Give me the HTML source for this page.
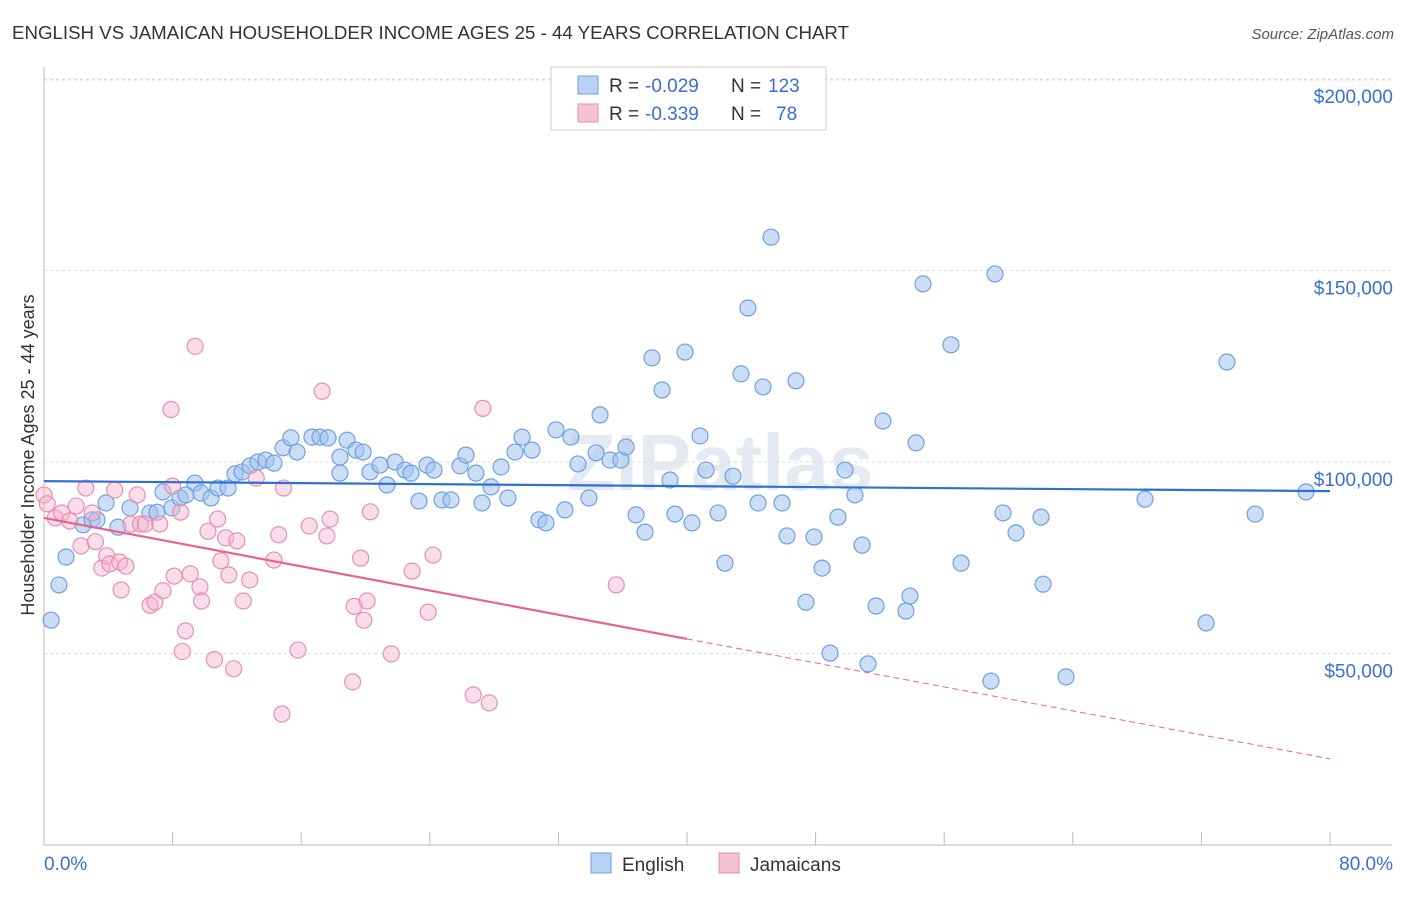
<!DOCTYPE html>
<html><head><meta charset="utf-8"><style>
body{margin:0;background:#fff;font-family:"Liberation Sans",sans-serif;}
svg text{font-family:"Liberation Sans",sans-serif;}
</style></head><body>
<svg id="chart" width="1406" height="892">
<text x="12" y="39" font-size="18.7" fill="#333">ENGLISH VS JAMAICAN HOUSEHOLDER INCOME AGES 25 - 44 YEARS CORRELATION CHART</text>
<text x="1394" y="39" font-size="15" fill="#555" text-anchor="end" font-style="italic">Source: ZipAtlas.com</text>
<text x="720" y="490" font-size="80" fill="#e4eaf2" text-anchor="middle" font-weight="bold">ZIPatlas</text>
<g id="grid"></g><g id="axes"></g><g id="pts"></g><g id="trend"></g>
<text transform="translate(34,455) rotate(-90)" font-size="18" fill="#333" text-anchor="middle">Householder Income Ages 25 - 44 years</text>
<g>
<rect x="551" y="67" width="275" height="63" fill="#fff" stroke="#ccc"/>
<rect x="578" y="76" width="20" height="18" fill="#b8d2f3" stroke="#6fa0e0"/>
<rect x="578" y="104" width="20" height="18" fill="#f7c3d4" stroke="#e68fae"/>
<text x="609" y="92" font-size="19" fill="#333">R =</text>
<text x="645" y="92" font-size="19" fill="#3a6fd0">-0.029</text>
<text x="731" y="92" font-size="19" fill="#333">N =</text>
<text x="768" y="92" font-size="19" fill="#3a6fd0">123</text>
<text x="609" y="120" font-size="19" fill="#333">R =</text>
<text x="645" y="120" font-size="19" fill="#3a6fd0">-0.339</text>
<text x="731" y="120" font-size="19" fill="#333">N =</text>
<text x="776" y="120" font-size="19" fill="#3a6fd0">78</text>
</g>
<g>
<rect x="591" y="853" width="20" height="20" fill="#b8d2f3" stroke="#6fa0e0"/>
<text x="622" y="871" font-size="19" fill="#333">English</text>
<rect x="719" y="853" width="20" height="20" fill="#f7c3d4" stroke="#e68fae"/>
<text x="750" y="871" font-size="19" fill="#333">Jamaicans</text>
</g>
</svg>
<script>
const NS='http://www.w3.org/2000/svg';
const yTicks=[50000,100000,150000,200000];
const yTickLabels=['$50,000','$100,000','$150,000','$200,000'];
const xTickLabels=['0.0%','80.0%'];
const englishX=[0.44,0.93,1.37,2.43,2.99,3.30,3.86,4.60,5.35,6.59,7.03,7.40,7.96,8.46,8.83,9.39,9.77,10.39,10.82,11.45,11.88,12.32,12.82,13.31,13.81,14.31,14.87,15.36,15.74,16.67,17.17,17.67,18.41,18.85,19.41,19.85,18.41,20.28,20.90,21.34,21.84,22.46,22.83,23.33,23.83,24.26,24.76,25.32,25.88,26.25,26.87,27.25,27.81,28.43,28.86,29.30,29.74,30.36,30.79,31.23,31.85,32.41,32.78,33.22,33.90,34.34,34.59,35.21,35.89,36.21,36.83,37.39,37.82,38.45,38.94,39.25,39.88,40.31,40.81,41.18,41.93,42.36,42.86,43.36,43.79,44.42,44.73,45.23,45.91,46.22,46.78,47.40,47.90,48.40,48.90,49.39,49.83,50.45,50.89,51.26,51.76,52.19,53.62,53.87,54.25,54.68,56.42,57.05,58.91,59.16,59.66,60.47,62.02,62.15,63.58,68.49,72.29,73.59,75.34,78.51];
const englishY=[58.7,67.9,75.2,83.6,84.9,84.9,89.3,83.0,88.0,86.7,86.9,92.2,88.0,90.6,91.4,94.5,91.9,90.6,93.2,93.2,96.9,97.4,99.0,100.0,100.5,99.7,103.7,106.3,102.6,106.5,106.5,106.3,101.3,105.7,103.1,102.6,97.1,97.4,99.2,94.0,100.0,97.9,97.1,89.8,99.2,97.9,90.1,90.1,99.0,101.8,97.1,89.3,93.5,98.7,90.6,102.6,106.5,103.1,84.9,84.1,108.4,87.5,106.5,99.5,90.6,102.4,112.3,100.5,100.5,103.9,86.2,81.7,127.2,118.8,95.3,86.4,128.7,84.1,106.8,97.9,86.7,73.6,96.3,123.0,140.2,89.3,119.6,158.7,89.3,80.7,121.2,63.4,80.4,72.3,50.1,85.6,97.9,91.4,78.3,47.3,62.4,110.7,61.1,65.0,105.0,146.5,130.6,73.6,42.8,149.1,86.7,81.5,85.6,68.1,43.9,90.3,58.0,126.1,86.4,92.2];
const jamX=[0.0,0.2,0.7,1.1,1.6,2.0,2.3,2.6,3.0,3.2,3.6,3.9,4.1,4.4,4.7,4.8,5.1,5.4,5.8,6.0,6.3,6.6,6.9,7.2,7.4,7.9,8.0,8.1,8.5,8.6,8.8,9.1,9.4,9.7,9.8,10.2,10.6,10.8,11.0,11.3,11.5,11.8,12.0,12.4,12.8,13.2,14.3,14.6,14.8,14.9,15.8,16.5,17.3,17.6,17.8,19.2,19.3,19.7,19.9,20.1,20.3,21.6,22.9,23.9,24.2,26.7,27.3,27.7,35.6];
const jamY=[91.4,89.1,85.4,86.7,84.6,88.5,78.1,93.2,86.7,79.2,72.3,75.5,73.4,92.7,73.9,66.6,72.8,83.8,91.4,83.8,83.8,62.6,63.4,83.8,66.4,113.7,93.7,70.2,86.9,50.5,55.9,70.8,130.2,67.4,63.7,81.9,48.4,85.1,74.2,80.2,70.5,46.0,79.4,63.7,69.2,95.8,74.4,81.0,34.2,93.2,50.9,83.3,118.5,80.7,85.1,42.6,62.3,74.9,58.7,63.7,87.0,49.9,71.5,60.8,75.7,39.2,114.0,37.1,67.9];
function X(p){return 44+p/80*1286;}
function Y(v){return 845-v/50000*191.5;}
function mk(t,a,par){const e=document.createElementNS(NS,t);for(const k in a)e.setAttribute(k,a[k]);document.getElementById(par).appendChild(e);return e;}
const lineRet=mk('line',{x1:44,y1:80,x2:1392,y2:80,stroke:'#ddd','stroke-dasharray':'3,3'},'grid');


yTicks.forEach((v,i)=>{
 const g=mk('line',{x1:44,y1:Y(v),x2:1392,y2:Y(v),stroke:'#ddd','stroke-dasharray':'3,3'},'grid');
 
 
 const t=mk('text',{x:1393,y:Y(v)+24,'font-size':19,fill:'#3a6fd0','text-anchor':'end'},'axes');
 t.textContent=yTickLabels[i];
 
 
});
const ya=mk('line',{x1:44,y1:67,x2:44,y2:845,stroke:'#bbb'},'axes');


const xa=mk('line',{x1:44,y1:845,x2:1392,y2:845,stroke:'#bbb'},'axes');


for(let i=0;i<=10;i++){const tk=mk('line',{x1:X(i*8),y1:832,x2:X(i*8),y2:845,stroke:'#bbb'},'axes');
 
 }
[[0,44,'start'],[80,1393,'end']].forEach((d,i)=>{const t=mk('text',{x:d[1],y:870,'font-size':19,fill:'#3a6fd0','text-anchor':d[2]},'axes');t.textContent=xTickLabels[i];
 
 });
englishX.forEach((x,i)=>{const c=mk('circle',{cx:X(x),cy:Y(englishY[i]*1000),r:8,fill:'rgba(160,195,238,0.55)',stroke:'#6fa0e0','stroke-width':1.2},'pts');
 
 });
jamX.forEach((x,i)=>{const c=mk('circle',{cx:X(x),cy:Y(jamY[i]*1000),r:8,fill:'rgba(244,180,203,0.45)',stroke:'#e68fae','stroke-width':1.2},'pts');
 
 });
const e1=mk('line',{x1:X(0),y1:Y(95000),x2:X(80),y2:Y(92400),stroke:'#2f6fd6','stroke-width':2.2},'trend');


const j1=mk('line',{x1:X(0),y1:Y(85400),x2:X(40),y2:Y(53800),stroke:'#e8648f','stroke-width':2.2},'trend');


const j2=mk('line',{x1:X(40),y1:Y(53800),x2:X(80),y2:Y(22500),stroke:'#e8648f','stroke-width':1,'stroke-dasharray':'6,4'},'trend');


</script>
</body></html>
